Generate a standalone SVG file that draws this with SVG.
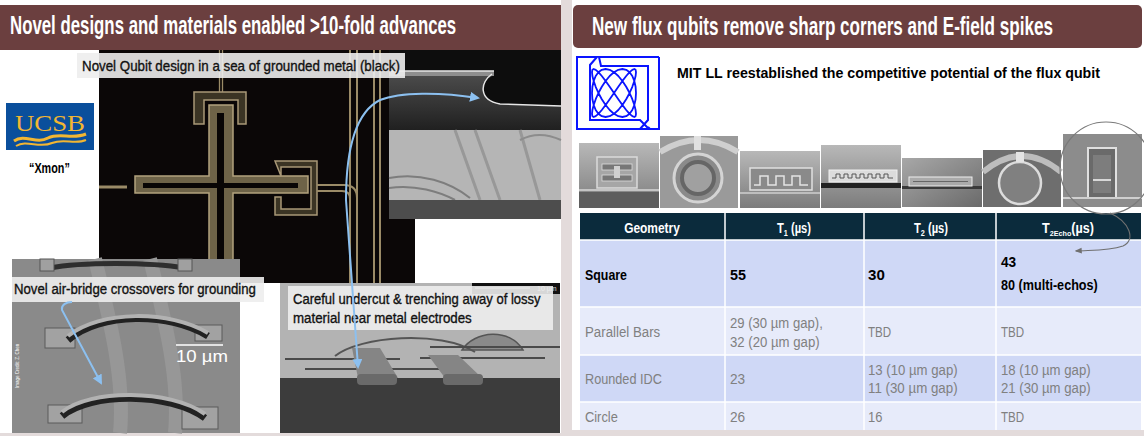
<svg xmlns="http://www.w3.org/2000/svg" width="1144" height="436" viewBox="0 0 1144 436">
<defs>
<style>
.title{font-family:"Liberation Sans",Arial,sans-serif;font-weight:700;font-size:25px;fill:#ffffff}
.lbl{font-family:"Liberation Sans",Arial,sans-serif;font-size:15px;fill:#111;stroke:#111;stroke-width:0.35}
.lblbox{fill:#ededed;fill-opacity:0.9}
.hdr{font-family:"Liberation Sans",Arial,sans-serif;font-weight:700;font-size:14px;fill:#ffffff}
.bold{font-family:"Liberation Sans",Arial,sans-serif;font-weight:700;font-size:15px;fill:#000}
.cell{font-family:"Liberation Sans",Arial,sans-serif;font-size:15px;fill:#808080}
.gold{stroke:#9b8b67;fill:none}
.blue{stroke:#8cc0f0;stroke-width:2;fill:none}
</style>
<marker id="bh" viewBox="0 0 10 10" refX="8" refY="5" markerWidth="5" markerHeight="5" orient="auto-start-reverse"><path d="M0,0 L10,5 L0,10 z" fill="#8cc0f0"/></marker>
<marker id="gh" viewBox="0 0 10 10" refX="8" refY="5" markerWidth="6" markerHeight="6" orient="auto"><path d="M0,1 L10,5 L0,9 z" fill="#707070"/></marker>
<linearGradient id="g1" x1="0" y1="0" x2="0" y2="1"><stop offset="0" stop-color="#b8b8b8"/><stop offset="1" stop-color="#7c7c7c"/></linearGradient>
<linearGradient id="g2" x1="0" y1="0" x2="1" y2="1"><stop offset="0" stop-color="#a8a8a8"/><stop offset="1" stop-color="#6a6a6a"/></linearGradient>
<linearGradient id="sub" x1="0" y1="0" x2="0" y2="1"><stop offset="0" stop-color="#4a4a4a"/><stop offset="1" stop-color="#202020"/></linearGradient>
</defs>

<rect x="0" y="0" width="1144" height="436" fill="#e3dbdb"/>
<rect x="0" y="0" width="561" height="433" fill="#ffffff"/>
<rect x="572" y="0" width="572" height="430" fill="#ffffff"/>

<!-- LEFT PANEL -->
<g id="left-title">
<rect x="0" y="5" width="561" height="45" fill="#6b3f3f"/>
<text class="title" transform="translate(10,34) scale(0.666,1)" textLength="670" lengthAdjust="spacingAndGlyphs">Novel designs and materials enabled &gt;10-fold advances</text>
</g>

<g id="xmon-photo">
<rect x="99" y="50" width="316" height="233" fill="#0b0707"/>
<line class="gold" x1="219.5" y1="50" x2="219.5" y2="92" stroke-width="1.3"/>
<line class="gold" x1="222.5" y1="50" x2="222.5" y2="92" stroke-width="1.3"/>
<line class="gold" x1="350" y1="50" x2="350" y2="283" stroke-width="2"/>
<line class="gold" x1="357" y1="50" x2="357" y2="283" stroke-width="2"/>
<line class="gold" x1="374" y1="50" x2="374" y2="283" stroke-width="2"/>
<line class="gold" x1="380" y1="50" x2="380" y2="283" stroke-width="2"/>
<path d="M204,124 V100 H238 V124 H246 V92 H194 V124 Z" fill="#3b3424" stroke="#a99877" stroke-width="1.5"/>
<path d="M209,105 H233 V176 H308 V193 H233 V283 H209 V193 H135 V176 H209 Z" fill="#6e6348" stroke="#b3a27d" stroke-width="1.5"/>
<path d="M217,113 H224 V183 H298 V188 H224 V283 H217 V188 H143 V183 H217 Z" fill="#080505"/>
<path d="M281,176 V167 H311 V209 H281 V197 H275 V215 H317 V161 H275 Z" fill="#3b3424" stroke="#a99877" stroke-width="1.5"/>
<path class="gold" d="M317,185 H344 Q357,185 357,198" stroke-width="2"/>
<path class="gold" d="M317,191 H342 Q350,191 350,199" stroke-width="2"/>
<line class="gold" x1="99" y1="187" x2="127" y2="187" stroke-width="3"/>
</g>

<g id="cantilever-photo">
<rect x="389" y="50" width="172" height="80" fill="#0d0d0d"/>
<path d="M389,76 H492 C480,82 478,100 500,104 L561,106 V130 H389 Z" fill="url(#sub)"/>
<rect x="389" y="71" width="105" height="5" fill="#8e8e8e"/>
<path d="M389,71 H494 M492,74 C480,82 478,100 500,104 L561,106" stroke="#e6e6e6" stroke-width="1.5" fill="none"/>
</g>

<g id="trench-photo">
<rect x="389" y="130" width="172" height="89" fill="#b5b5b5"/>
<path d="M455,130 L480,200 M475,130 L500,200 M520,130 L540,200" stroke="#989898" stroke-width="3" fill="none"/>
<path d="M389,178 C420,172 450,182 470,198 M389,188 C415,184 440,192 455,200" stroke="#7d7d7d" stroke-width="2" fill="none"/>
<path d="M520,140 C535,132 550,135 561,140" stroke="#8c8c8c" stroke-width="2" fill="none"/>
<rect x="389" y="200" width="172" height="19" fill="#4d4d4d"/>
</g>

<g id="label-qubit">
<rect class="lblbox" x="77" y="53" width="328" height="25"/>
<text class="lbl" transform="translate(82,71) scale(0.83,1)" textLength="383" lengthAdjust="spacingAndGlyphs">Novel Qubit design in a sea of grounded metal (black)</text>
</g>

<g id="ucsb-logo">
<rect x="6" y="103" width="88" height="47" fill="#0a4f9c"/>
<text x="50" y="131" text-anchor="middle" font-family="Liberation Serif,serif" font-size="24" fill="#f2b632" textLength="70" lengthAdjust="spacingAndGlyphs">UCSB</text>
<path d="M14,141 C25,133 36,145 48,138 C60,132 72,140 86,134" stroke="#f2b632" stroke-width="3" fill="none"/>
<path d="M16,146 C27,139 39,149 52,143 C64,138 75,145 86,140" stroke="#f2b632" stroke-width="2" fill="none"/>
</g>
<g id="xmon-label">
<text class="bold" transform="translate(29,173) scale(0.6,1)" font-size="20" textLength="68" lengthAdjust="spacingAndGlyphs">“Xmon”</text>
</g>

<g id="airbridge-photo">
<rect x="12" y="259" width="228" height="174" fill="#8a8a8a"/>
<path d="M95,259 C110,320 125,380 120,433 M150,259 C165,320 180,380 175,433" stroke="#979797" stroke-width="14" fill="none"/>
<path d="M50,268 C80,262 150,262 185,268" stroke="#2e2e2e" stroke-width="5" fill="none"/>
<rect x="40" y="259" width="14" height="12" fill="#a0a0a0" stroke="#555"/>
<rect x="178" y="259" width="14" height="12" fill="#a0a0a0" stroke="#555"/>
<rect x="45" y="328" width="30" height="20" fill="#a2a2a2" stroke="#5a5a5a"/>
<rect x="195" y="325" width="27" height="16" fill="#a2a2a2" stroke="#5a5a5a"/>
<path d="M68,340 C100,312 170,312 208,336" stroke="#222" stroke-width="7" fill="none"/>
<path d="M68,336 C100,310 170,310 208,333" stroke="#b2b2b2" stroke-width="4" fill="none"/>
<rect x="48" y="405" width="34" height="18" fill="#a2a2a2" stroke="#5a5a5a"/>
<rect x="182" y="407" width="36" height="22" fill="#a2a2a2" stroke="#5a5a5a"/>
<path d="M62,416 C90,392 170,392 205,418" stroke="#222" stroke-width="7" fill="none"/>
<path d="M62,412 C90,389 170,389 205,414" stroke="#b2b2b2" stroke-width="4" fill="none"/>
<line x1="176" y1="345" x2="223" y2="345" stroke="#ffffff" stroke-width="1.5"/>
<text x="176" y="362" font-family="Liberation Sans,Arial,sans-serif" font-size="17" fill="#ffffff" textLength="52" lengthAdjust="spacingAndGlyphs">10 µm</text>
<text x="0" y="0" transform="translate(19,388) rotate(-90)" font-family="Liberation Sans,Arial,sans-serif" font-size="4.5" fill="#ffffff">Image Credit: Z. Chen</text>
</g>

<g id="label-airbridge">
<rect class="lblbox" x="12" y="277" width="252" height="25"/>
<text class="lbl" transform="translate(14,294) scale(0.82,1)" textLength="295" lengthAdjust="spacingAndGlyphs">Novel air-bridge crossovers for grounding</text>
</g>

<g id="undercut-photo">
<rect x="280" y="283" width="280" height="95" fill="#b3b3b3"/>
<rect x="280" y="378" width="280" height="55" fill="#3c3c3c"/>
<path d="M462,350 C475,330 510,328 523,350 Z" fill="#8a8a8a" stroke="#555" stroke-width="1.5"/>
<path d="M335,356 C360,336 440,330 475,352" stroke="#555" stroke-width="2" fill="none"/>
<path d="M285,359 H400 M305,369 H470 M430,347 H560 M420,358 H545" stroke="#4a4a4a" stroke-width="2" fill="none"/>
<path d="M352,348 L380,348 L398,378 L358,378 Z" fill="#858585"/>
<path d="M428,355 L458,355 L482,378 L445,378 Z" fill="#858585"/>
<rect x="357" y="374" width="40" height="11" rx="4" fill="#6a6a6a"/>
<rect x="443" y="374" width="40" height="11" rx="4" fill="#6a6a6a"/>
<rect x="472" y="283" width="88" height="11" fill="#111"/>
<line x1="475" y1="288" x2="530" y2="288" stroke="#ddd" stroke-width="1"/>
<text x="537" y="291" font-family="Liberation Sans,Arial,sans-serif" font-size="7" fill="#ddd">10 µm</text>
</g>

<g id="label-undercut">
<rect class="lblbox" x="288" y="286" width="265" height="44"/>
<text class="lbl" transform="translate(293,304) scale(0.82,1)" textLength="302" lengthAdjust="spacingAndGlyphs">Careful undercut &amp; trenching away of lossy</text>
<text class="lbl" transform="translate(293,323) scale(0.82,1)" textLength="218" lengthAdjust="spacingAndGlyphs">material near metal electrodes</text>
</g>

<!-- RIGHT PANEL -->
<g id="right-title">
<rect x="573" y="5" width="569" height="43" rx="5" fill="#6b3f3f"/>
<text class="title" transform="translate(592,35) scale(0.684,1)" textLength="674" lengthAdjust="spacingAndGlyphs">New flux qubits remove sharp corners and E-field spikes</text>
</g>

<g id="mitll-logo" stroke="#0a14ff" stroke-width="2" fill="none">
<path d="M577,57 H597 L590,65 V120 H640 L649,129 H577 Z"/>
<path d="M659,57 V129 H650 L648,127 M659,57 H599 L601,66 H648 V120 L640,129"/>
<polyline stroke-width="1.8" stroke-linejoin="round" points="636,93 635.6,99.2 634.3,105 632.3,110 629.6,113.8 626.2,116.2 622.4,117 618.3,116.2 614,113.8 609.7,110 605.6,105 601.8,99.2 598.4,93 595.7,86.8 593.7,81 592.4,76 592,72.2 592.4,69.8 593.7,69 595.7,69.8 598.4,72.2 601.8,76 605.6,81 609.7,86.8 614,93 618.3,99.2 622.4,105 626.2,110 629.6,113.8 632.3,116.2 634.3,117 635.6,116.2 636,113.8 635.6,110 634.3,105 632.3,99.2 629.6,93 626.2,86.8 622.4,81 618.3,76 614,72.2 609.7,69.8 605.6,69 601.8,69.8 598.4,72.2 595.7,76 593.7,81 592.4,86.8 592,93 592.4,99.2 593.7,105 595.7,110 598.4,113.8 601.8,116.2 605.6,117 609.7,116.2 614,113.8 618.3,110 622.4,105 626.2,99.2 629.6,93 632.3,86.8 634.3,81 635.6,76 636,72.2 635.6,69.8 634.3,69 632.3,69.8 629.6,72.2 626.2,76 622.4,81 618.3,86.8 614,93 609.7,99.2 605.6,105 601.8,110 598.4,113.8 595.7,116.2 593.7,117 592.4,116.2 592,113.8 592.4,110 593.7,105 595.7,99.2 598.4,93 601.8,86.8 605.6,81 609.7,76 614,72.2 618.3,69.8 622.4,69 626.2,69.8 629.6,72.2 632.3,76 634.3,81 635.6,86.8 636,93"/>
</g>
<g id="mitll-text">
<text class="bold" transform="translate(677,78) scale(0.68,1)" font-size="18" textLength="622" lengthAdjust="spacingAndGlyphs">MIT LL reestablished the competitive potential of the flux qubit</text>
</g>

<g id="geom-photos">
<g id="photo-square">
<rect x="579" y="143" width="80" height="65" fill="url(#g1)"/>
<rect x="597" y="157" width="40" height="31" fill="#a6a6a6" stroke="#dadada" stroke-width="1.5"/>
<rect x="602" y="164" width="30" height="6" fill="#777" stroke="#ddd" stroke-width="0.8"/>
<rect x="602" y="175" width="30" height="6" fill="#777" stroke="#ddd" stroke-width="0.8"/>
<rect x="614" y="166" width="6" height="12" fill="#d0d0d0"/>
<line x1="579" y1="190" x2="659" y2="190" stroke="#d8d8d8" stroke-width="1.5"/>
<rect x="579" y="192" width="80" height="16" fill="#5e5e5e"/>
</g>
<g id="photo-ring">
<rect x="660" y="136" width="78" height="72" fill="#9a9a9a"/>
<path d="M660,152 Q699,128 738,152" stroke="#cfcfcf" stroke-width="6" fill="none"/>
<circle cx="698" cy="178" r="24" fill="#8a8a8a" stroke="#d4d4d4" stroke-width="3"/>
<circle cx="698" cy="178" r="16" fill="#a0a0a0" stroke="#666" stroke-width="4"/>
<rect x="694" y="136" width="7" height="14" fill="#e0e0e0"/>
</g>
<g id="photo-idc">
<rect x="740" y="151" width="80" height="57" fill="url(#g1)"/>
<rect x="750" y="168" width="62" height="22" fill="#8a8a8a" stroke="#e0e0e0" stroke-width="1.5"/>
<path d="M754,185 H760 V176 H768 V185 H776 V176 H784 V185 H792 V176 H800 V185 H808" stroke="#e4e4e4" stroke-width="1.5" fill="none"/>
<line x1="740" y1="193" x2="820" y2="193" stroke="#cfcfcf" stroke-width="1.5"/>
</g>
<g id="photo-comb">
<rect x="821" y="145" width="80" height="63" fill="url(#g1)"/>
<rect x="821" y="183" width="80" height="5" fill="#222"/>
<rect x="829" y="170" width="68" height="12" fill="#dcdcdc" stroke="#f0f0f0"/>
<path d="M832,178 H836 V174 H840 V178 H844 V174 H848 V178 H852 V174 H856 V178 H860 V174 H864 V178 H868 V174 H872 V178 H876 V174 H880 V178 H884 V174 H888 V178 H893" stroke="#555" stroke-width="1" fill="none"/>
</g>
<g id="photo-bars">
<rect x="902" y="158" width="80" height="49" fill="url(#g2)"/>
<rect x="902" y="186" width="80" height="3" fill="#3a3a3a"/>
<rect x="909" y="177" width="63" height="9" fill="#aaaaaa" stroke="#eeeeee"/>
<line x1="913" y1="181.5" x2="968" y2="181.5" stroke="#666" stroke-width="1"/>
</g>
<g id="photo-circle">
<rect x="983" y="150" width="78" height="57" fill="#6e6e6e"/>
<path d="M983,172 Q1022,140 1061,172" stroke="#bdbdbd" stroke-width="6" fill="none"/>
<circle cx="1020" cy="183" r="21" fill="#808080" stroke="#dcdcdc" stroke-width="2.5"/>
<rect x="1016" y="152" width="8" height="10" fill="#e4e4e4"/>
</g>
<g id="photo-rect">
<rect x="1063" y="134" width="79" height="73" fill="#8c8c8c"/>
<rect x="1088" y="148" width="28" height="50" fill="#6a6a6a" stroke="#e0e0e0" stroke-width="2"/>
<rect x="1093" y="155" width="18" height="38" fill="#7d7d7d"/>
<line x1="1093" y1="180" x2="1111" y2="180" stroke="#d8d8d8" stroke-width="2"/>
<line x1="1063" y1="198" x2="1142" y2="198" stroke="#cfcfcf" stroke-width="2"/>
</g>
</g>

<g id="table">
<rect x="580" y="213" width="561" height="27" fill="#0b2b3c"/>
<rect x="580" y="240" width="561" height="67" fill="#cfd8f6"/>
<rect x="580" y="307" width="561" height="48" fill="#e7ebfa"/>
<rect x="580" y="355" width="561" height="47" fill="#cfd8f6"/>
<rect x="580" y="402" width="561" height="28" fill="#e7ebfa"/>
<path d="M725,213 V430 M864,213 V430 M996,213 V430 M580,240 H1141 M580,307 H1141 M580,355 H1141 M580,402 H1141" stroke="#ffffff" stroke-width="1.5"/>
<text class="hdr" transform="translate(652,233) scale(0.82,1)" text-anchor="middle" textLength="68" lengthAdjust="spacingAndGlyphs">Geometry</text>
<text class="hdr" transform="translate(777,233) scale(0.8,1)">T<tspan font-size="9" dy="3">1</tspan><tspan dy="-3"> (µs)</tspan></text>
<text class="hdr" transform="translate(914,233) scale(0.8,1)">T<tspan font-size="9" dy="3">2</tspan><tspan dy="-3"> (µs)</tspan></text>
<text class="hdr" transform="translate(1042,233) scale(0.9,1)">T<tspan font-size="8" dy="3">2Echo</tspan><tspan dy="-3">(µs)</tspan></text>
<text class="bold" transform="translate(585,280) scale(0.8,1)" textLength="52.5" lengthAdjust="spacingAndGlyphs">Square</text>
<text class="bold" transform="translate(730,280) scale(0.8,1)" textLength="20" lengthAdjust="spacingAndGlyphs">55</text>
<text class="bold" transform="translate(868,280) scale(0.8,1)" textLength="21" lengthAdjust="spacingAndGlyphs">30</text>
<text class="bold" transform="translate(1001,267) scale(0.8,1)" textLength="19" lengthAdjust="spacingAndGlyphs">43</text>
<text class="bold" transform="translate(1001,290) scale(0.8,1)" textLength="121" lengthAdjust="spacingAndGlyphs">80 (multi-echos)</text>
<text class="cell" transform="translate(585,337) scale(0.8,1)" textLength="94" lengthAdjust="spacingAndGlyphs">Parallel Bars</text>
<text class="cell" transform="translate(730,328) scale(0.8,1)" textLength="116" lengthAdjust="spacingAndGlyphs">29 (30 µm gap),</text>
<text class="cell" transform="translate(730,347) scale(0.8,1)" textLength="112" lengthAdjust="spacingAndGlyphs">32 (20 µm gap)</text>
<text class="cell" transform="translate(868,337) scale(0.8,1)" textLength="29" lengthAdjust="spacingAndGlyphs">TBD</text>
<text class="cell" transform="translate(1001,337) scale(0.8,1)" textLength="29" lengthAdjust="spacingAndGlyphs">TBD</text>
<text class="cell" transform="translate(585,384) scale(0.8,1)" textLength="96" lengthAdjust="spacingAndGlyphs">Rounded IDC</text>
<text class="cell" transform="translate(730,384) scale(0.8,1)" textLength="19" lengthAdjust="spacingAndGlyphs">23</text>
<text class="cell" transform="translate(868,375) scale(0.8,1)" textLength="112" lengthAdjust="spacingAndGlyphs">13 (10 µm gap)</text>
<text class="cell" transform="translate(868,393) scale(0.8,1)" textLength="112" lengthAdjust="spacingAndGlyphs">11 (30 µm gap)</text>
<text class="cell" transform="translate(1001,375) scale(0.8,1)" textLength="112" lengthAdjust="spacingAndGlyphs">18 (10 µm gap)</text>
<text class="cell" transform="translate(1001,393) scale(0.8,1)" textLength="112" lengthAdjust="spacingAndGlyphs">21 (30 µm gap)</text>
<text class="cell" transform="translate(585,422) scale(0.8,1)" textLength="41" lengthAdjust="spacingAndGlyphs">Circle</text>
<text class="cell" transform="translate(730,422) scale(0.8,1)" textLength="19" lengthAdjust="spacingAndGlyphs">26</text>
<text class="cell" transform="translate(868,422) scale(0.8,1)" textLength="18" lengthAdjust="spacingAndGlyphs">16</text>
<text class="cell" transform="translate(1001,422) scale(0.8,1)" textLength="29" lengthAdjust="spacingAndGlyphs">TBD</text>
</g>

<g id="connectors">
<path class="blue" d="M478,98 C440,92 400,92 380,100 C356,112 346,150 346,200 L358,367" marker-start="url(#bh)" marker-end="url(#bh)"/>
<path class="blue" d="M72,302 C66,302 61,305 62,310 L101,383" marker-end="url(#bh)"/>
<circle cx="1106" cy="168" r="46" fill="none" stroke="#7a7a7a" stroke-width="1.2"/>
<path d="M1110,213 C1130,222 1136,240 1123,246 C1108,251 1092,250 1076,251" fill="none" stroke="#707070" stroke-width="1.2" marker-end="url(#gh)"/>
</g>
</svg>
